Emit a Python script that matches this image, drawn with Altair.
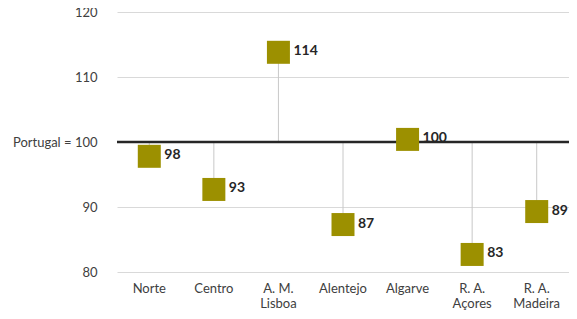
import altair as alt
import pandas as pd

regions = ["Norte", "Centro", "A. M.\nLisboa", "Alentejo", "Algarve", "R. A.\nAçores", "R. A.\nMadeira"]
values = [97.8, 92.7, 113.8, 87.3, 100.4, 82.7, 89.3]
baseline = 100
y_ticks = [80, 90, 100, 110, 120]

df = pd.DataFrame({"region": regions, "value": values, "base": [baseline] * len(regions)})

FONT = "Lato"

x = alt.X("region:N", sort=regions, title=None,
          scale=alt.Scale(paddingInner=0, paddingOuter=0),
          axis=alt.Axis(labelAngle=0, labelExpr="split(datum.label, '\\n')", ticks=False, domain=False,
                        labelFont=FONT, labelFontSize=13, labelColor="#404040", labelPadding=10,
                        labelLineHeight=15, labelBaseline="top", labelOverlap=False))
y_scale = alt.Scale(domain=[80, 120], nice=False, zero=False)

base = alt.Chart(df)

grid = base.mark_rule(opacity=0).encode(
    x=x,
    y=alt.Y("value:Q", scale=y_scale, title=None,
            axis=alt.Axis(values=y_ticks, grid=True, gridColor="#d9d9d9", gridWidth=1,
                          ticks=False, domain=False, labelFont=FONT, labelFontSize=13,
                          labelColor="#404040", labelPadding=20, labelOverlap=False,
                          labelExpr="datum.value == 100 ? 'Portugal = 100' : datum.label")),
)

drops = base.mark_rule(color="#c8c8c8", strokeWidth=1).encode(
    x=x, y=alt.Y("base:Q", scale=y_scale), y2="value:Q"
)

bdf = pd.DataFrame({"b": [baseline]})

line100 = alt.Chart(bdf).mark_rule(color="#262626", strokeWidth=2.5).encode(
    y=alt.Y("b:Q", scale=y_scale)
)

squares = base.mark_square(size=529, color="#9c9000", opacity=1, filled=True).encode(
    x=x, y=alt.Y("value:Q", scale=y_scale)
)

labels = base.mark_text(align="left", baseline="middle", dx=15, dy=-1, font=FONT, fontSize=14,
                        fontWeight="bold", color="#262626").encode(
    x=x, y=alt.Y("value:Q", scale=y_scale), text=alt.Text("value:Q", format=".0f")
)

chart = alt.layer(grid, drops, line100, squares, labels).properties(
    width=452, height=260,
    autosize=alt.AutoSizeParams(type="none"),
    padding={"left": 109, "top": 4, "right": 0, "bottom": 40},
).configure_view(stroke=None)

chart.save("out.html", embed_options={"renderer": "svg", "actions": False})
